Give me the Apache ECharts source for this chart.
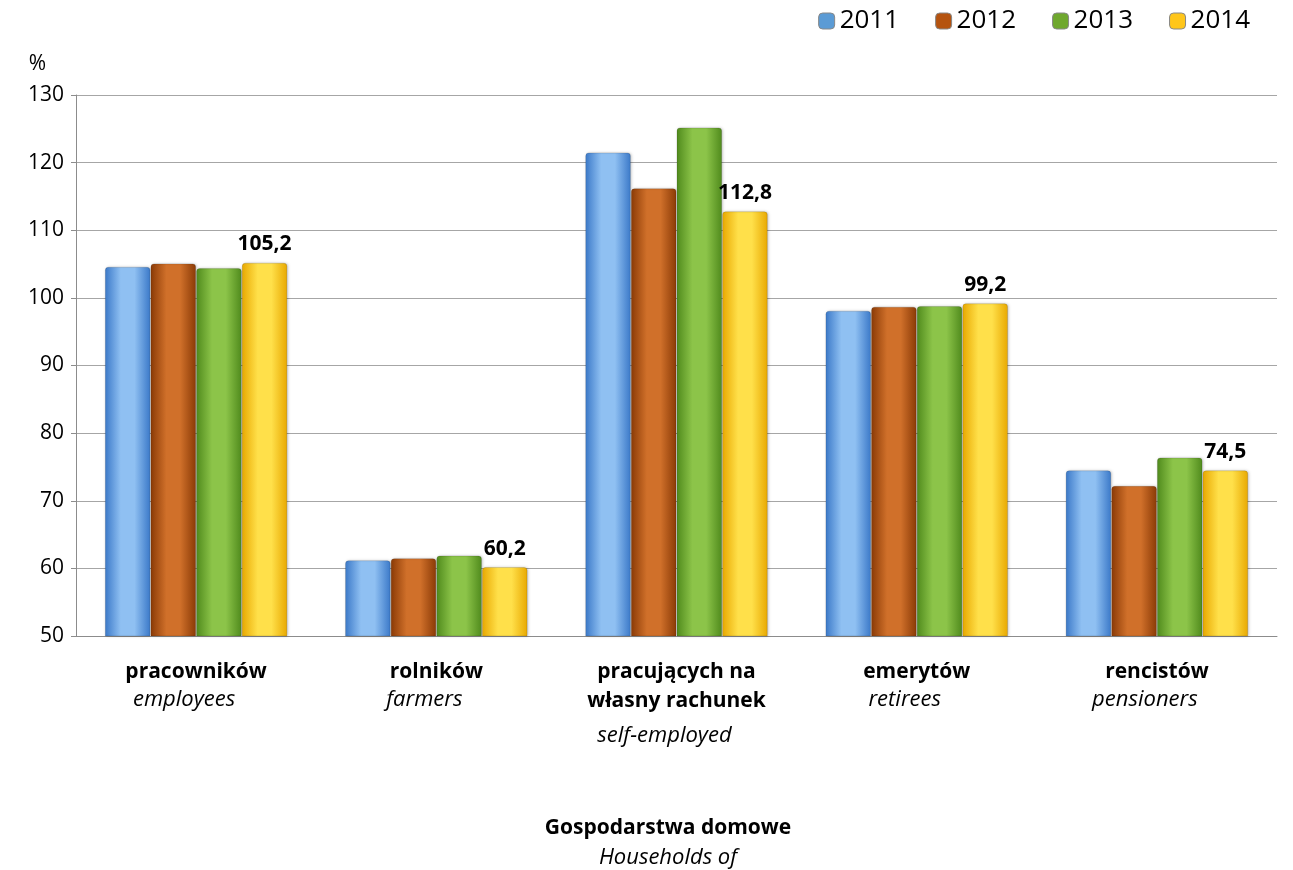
<!DOCTYPE html>
<html><head><meta charset="utf-8">
<script src="https://cdn.jsdelivr.net/npm/echarts@6/dist/echarts.min.js"></script>
<style>html,body{margin:0;padding:0;background:#fff}#c{width:1293px;height:870px}</style>
</head><body><div id="c"></div>
<script>
const categoriesPl = ['pracowników', 'rolników', 'pracujących na\nwłasny rachunek', 'emerytów', 'rencistów'];
const categoriesEn = ['employees', 'farmers', 'self-employed', 'retirees', 'pensioners'];
const years = ['2011', '2012', '2013', '2014'];
const v2011 = [104.6, 61.2, 121.5, 98.1, 74.5];
const v2012 = [105.1, 61.5, 116.2, 98.7, 72.2];
const v2013 = [104.4, 61.9, 125.2, 98.8, 76.4];
const v2014 = [105.2, 60.2, 112.8, 99.2, 74.5];
const yTicks = [50, 60, 70, 80, 90, 100, 110, 120, 130];
const axisTitlePl = 'Gospodarstwa domowe';
const axisTitleEn = 'Households of';

const FONT = '"Open Sans", Lato, sans-serif';
const palettes = [
  ['#3a78c8', '#8fc0f2', '#3a78c8'],
  ['#8a3a06', '#d0702a', '#8a3a06'],
  ['#4f8a1c', '#8cc449', '#4f8a1c'],
  ['#e8a800', '#ffe04a', '#e8a800']
];
const legendColors = ['#5b9bd5', '#b5530f', '#6fa82e', '#ffc61a'];
function grad(p) {
  return new echarts.graphic.LinearGradient(0, 0, 1, 0, [
    {offset: 0, color: p[0]}, {offset: 0.35, color: p[1]}, {offset: 0.65, color: p[1]}, {offset: 1, color: p[2]}
  ]);
}
const data = [v2011, v2012, v2013, v2014];
const chart = echarts.init(document.getElementById('c'));
const labels = categoriesPl.map((pl, i) => {
  if (pl.indexOf('\n') >= 0) return '{b|' + pl.replace('\n', '}\n{b|') + '}\n{i3|' + categoriesEn[i] + '}';
  return '{b|' + pl + '}\n{i|' + categoriesEn[i] + '}';
});
chart.setOption({
  animation: false,
  textStyle: {fontFamily: FONT},
  legend: {
    top: 3, right: 38, itemWidth: 16, itemHeight: 16, itemGap: 36,
    textStyle: {fontSize: 26, color: '#000', fontFamily: FONT},
    data: years.map((y, i) => ({name: y, itemStyle: {color: legendColors[i], borderColor: '#888', borderWidth: 1}}))
  },
  grid: {left: 76, right: 16, top: 95, bottom: 234, containLabel: false},
  xAxis: {
    type: 'category', data: labels,
    axisLine: {show: true, lineStyle: {color: '#8c8c8c'}},
    axisTick: {show: false},
    axisLabel: {
      margin: 22, interval: 0, color: '#000',
      rich: {
        b: {fontWeight: 'bold', fontSize: 21, fontFamily: FONT, lineHeight: 29, color: '#000'},
        i: {fontStyle: 'italic', fontSize: 22, fontFamily: FONT, lineHeight: 25, color: '#000', padding: [0, 24, 0, 0]},
        i3: {fontStyle: 'italic', fontSize: 22, fontFamily: FONT, lineHeight: 34, color: '#000', padding: [6, 24, 0, 0]}
      }
    }
  },
  yAxis: {
    type: 'value', min: 50, max: 130, interval: 10,
    name: '%', nameGap: 20, nameLocation: 'end',
    nameTextStyle: {fontSize: 21, color: '#000', align: 'right', padding: [0, 30, 0, 0], fontFamily: FONT},
    axisLine: {show: true, lineStyle: {color: '#8c8c8c'}},
    axisTick: {show: true, length: 5, lineStyle: {color: '#8c8c8c'}},
    axisLabel: {fontSize: 21, color: '#000', margin: 12, fontFamily: FONT},
    splitLine: {lineStyle: {color: '#a6a6a6', width: 1.2}}
  },
  series: years.map((y, i) => ({
    name: y, type: 'bar', data: data[i],
    barGap: '0%', barCategoryGap: '24%',
    itemStyle: {color: grad(palettes[i]), borderColor: 'rgba(0,0,0,0.12)', borderWidth: 1, borderRadius: [3, 3, 0, 0],
      shadowColor: 'rgba(0,0,0,0.25)', shadowBlur: 3, shadowOffsetX: 1},
    label: i === 3 ? {
      show: true, position: 'top', distance: 8, fontWeight: 'bold', fontSize: 21, color: '#000', fontFamily: FONT,
      formatter: p => String(p.value).replace('.', ',')
    } : {show: false}
  })),
  graphic: [
    {type: 'text', x: 668, y: 828, style: {text: axisTitlePl, font: 'bold 21px ' + FONT, fill: '#000', align: 'center', verticalAlign: 'middle'}},
    {type: 'text', x: 668, y: 858, style: {text: axisTitleEn, font: 'italic 22px ' + FONT, fill: '#000', align: 'center', verticalAlign: 'middle'}}
  ]
});
</script></body></html>
